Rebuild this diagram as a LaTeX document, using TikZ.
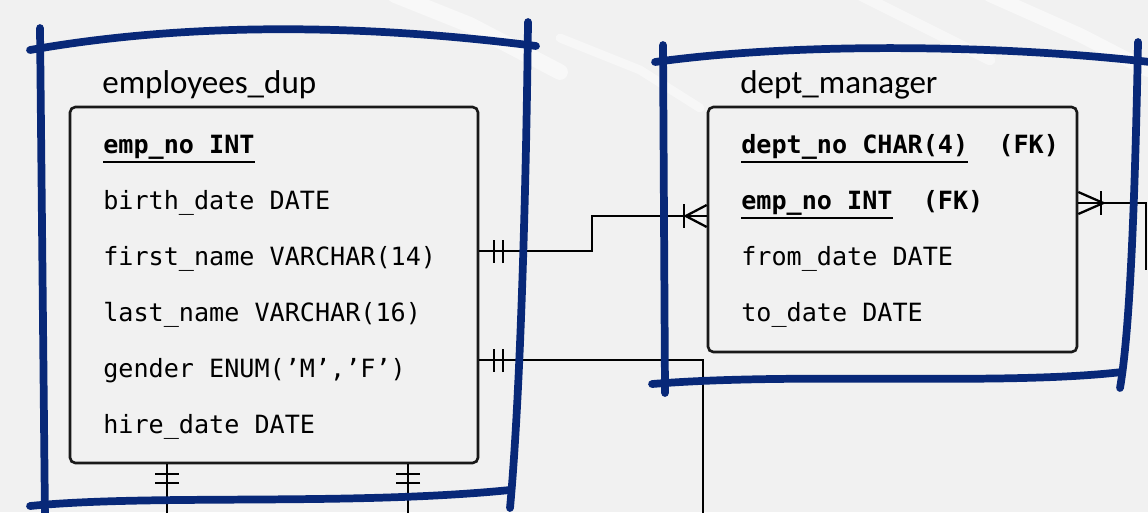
\documentclass[tikz,border=0pt]{standalone}
\usepackage{fontspec}
\setmainfont{Carlito}
\setmonofont{DejaVu Sans Mono}
\usepackage{xcolor}
\usetikzlibrary{positioning}

\definecolor{frameblue}{RGB}{8,40,120}
\definecolor{bggray}{RGB}{241,241,241}

% primary key: text with a heavy underline
\newcommand{\pkfield}[1]{\setbox0\hbox{#1}\rlap{\raisebox{-5.6pt}{\rule{\wd0}{1.2pt}}}\box0}

\begin{document}
\begin{tikzpicture}[x=0.02cm, y=-0.02cm,
    frame/.style={draw=frameblue, line width=4.4pt, line cap=round},
    tablebox/.style={draw=black!90, line width=1.5pt, rounded corners=3pt, fill=bggray, inner sep=0pt},
    title/.style={anchor=base west, inner sep=0pt, font=\fontsize{18.8}{22}\selectfont},
    field/.style={anchor=base west, inner sep=0pt, font=\ttfamily\fontsize{14.3}{17}\selectfont},
    link/.style={draw=black, line width=1.3pt}]

    % Fondo
    \fill[bggray] (0,0) rectangle (1148,512);
    \useasboundingbox (0,0) rectangle (1148,512);
    \clip (0,0) rectangle (1148,512);
    \draw[white, line width=9pt, opacity=0.5, line cap=round] (395,-5) -- (470,25) -- (560,72);
    \draw[white, line width=5pt, opacity=0.45, line cap=round] (560,38) -- (640,70) -- (700,108);
    \draw[white, line width=6pt, opacity=0.45, line cap=round] (860,-5) -- (930,30) -- (990,60);
    \draw[white, line width=8pt, opacity=0.5, line cap=round] (990,-5) -- (1080,35) -- (1148,70);

    % Tabelle
    \node[tablebox, minimum width=8.16cm, minimum height=7.12cm] (emp) at (274,285) {};
    \node[tablebox, minimum width=7.38cm, minimum height=4.9cm] (dept) at (892.5,229.5) {};

    \node[title] (empT) at (102,93) {employees\_dup};
    \node[field] (e1) at (103,153) {\textbf{\pkfield{emp\_no INT}}};
    \node[field] (e2) at (103,209) {birth\_date DATE};
    \node[field] (e3) at (103,265) {first\_name VARCHAR(14)};
    \node[field] (e4) at (103,321) {last\_name VARCHAR(16)};
    \node[field] (e5) at (103,377) {gender ENUM(’M’,’F’)};
    \node[field] (e6) at (103,433) {hire\_date DATE};

    \node[title] (deptT) at (740,93) {dept\_manager};
    \node[field] (d1) at (741,153) {\textbf{\pkfield{dept\_no CHAR(4)}~~(FK)}};
    \node[field] (d2) at (741,209) {\textbf{\pkfield{emp\_no INT}~~(FK)}};
    \node[field] (d3) at (741,265) {from\_date DATE};
    \node[field] (d4) at (741,321) {to\_date DATE};

    % Collegamenti
    \coordinate (j1) at (592,251);
    \coordinate (j2) at (592,216);
    \coordinate (j3) at (1146,203);
    \coordinate (j4) at (703,360);
    \coordinate (j5) at (703,520);
    \coordinate (j6) at (1146,270);
    \coordinate (b1) at (167,520);
    \coordinate (b2) at (408,520);

    \draw[link] (emp.east |- j1) -- (j1) -- (j2) -- (dept.west |- j2);
    \draw[link] (emp.east |- j1) ++(15,-11) -- ++(0,23) ++(9,0) -- ++(0,-23);
    \draw[link] (dept.west |- j2) ++(-23,-12) -- ++(0,24);
    \draw[link] (dept.west |- j2) ++(0,-11) -- ++(-21,11) -- ++(21,11);

    \draw[link] (emp.east |- j4) -- (j4) -- (j5);
    \draw[link] (emp.east |- j4) ++(15,-11) -- ++(0,23) ++(9,0) -- ++(0,-23);

    \draw[link] (dept.east |- j3) -- (j3) -- (j6);
    \draw[link] (dept.east |- j3) ++(0,-11) -- ++(25,11) -- ++(-25,11);
    \draw[link] (dept.east |- j3) ++(23,-12) -- ++(0,24);

    \draw[link] (emp.south -| b1) -- (b1);
    \draw[link] (emp.south -| b1) ++(-12,10) -- ++(24,0) ++(0,9) -- ++(-24,0);
    \draw[link] (emp.south -| b2) -- (b2);
    \draw[link] (emp.south -| b2) ++(-12,10) -- ++(24,0) ++(0,9) -- ++(-24,0);

    % Cornici
    \draw[frame] (30,50) .. controls (200,20) and (380,26) .. (536,46);
    \draw[frame] (40,28) -- (45,520);
    \draw[frame] (528,22) .. controls (526,200) and (520,400) .. (510,508);
    \draw[frame] (30,506) .. controls (150,494) and (350,506) .. (510,490);

    \draw[frame] (655,62) .. controls (800,42) and (1000,45) .. (1150,62);
    \draw[frame] (663,45) -- (665,393);
    \draw[frame] (1138,42) .. controls (1135,200) and (1130,330) .. (1120,388);
    \draw[frame] (652,384) .. controls (800,372) and (1000,386) .. (1122,372);
\end{tikzpicture}
\end{document}
